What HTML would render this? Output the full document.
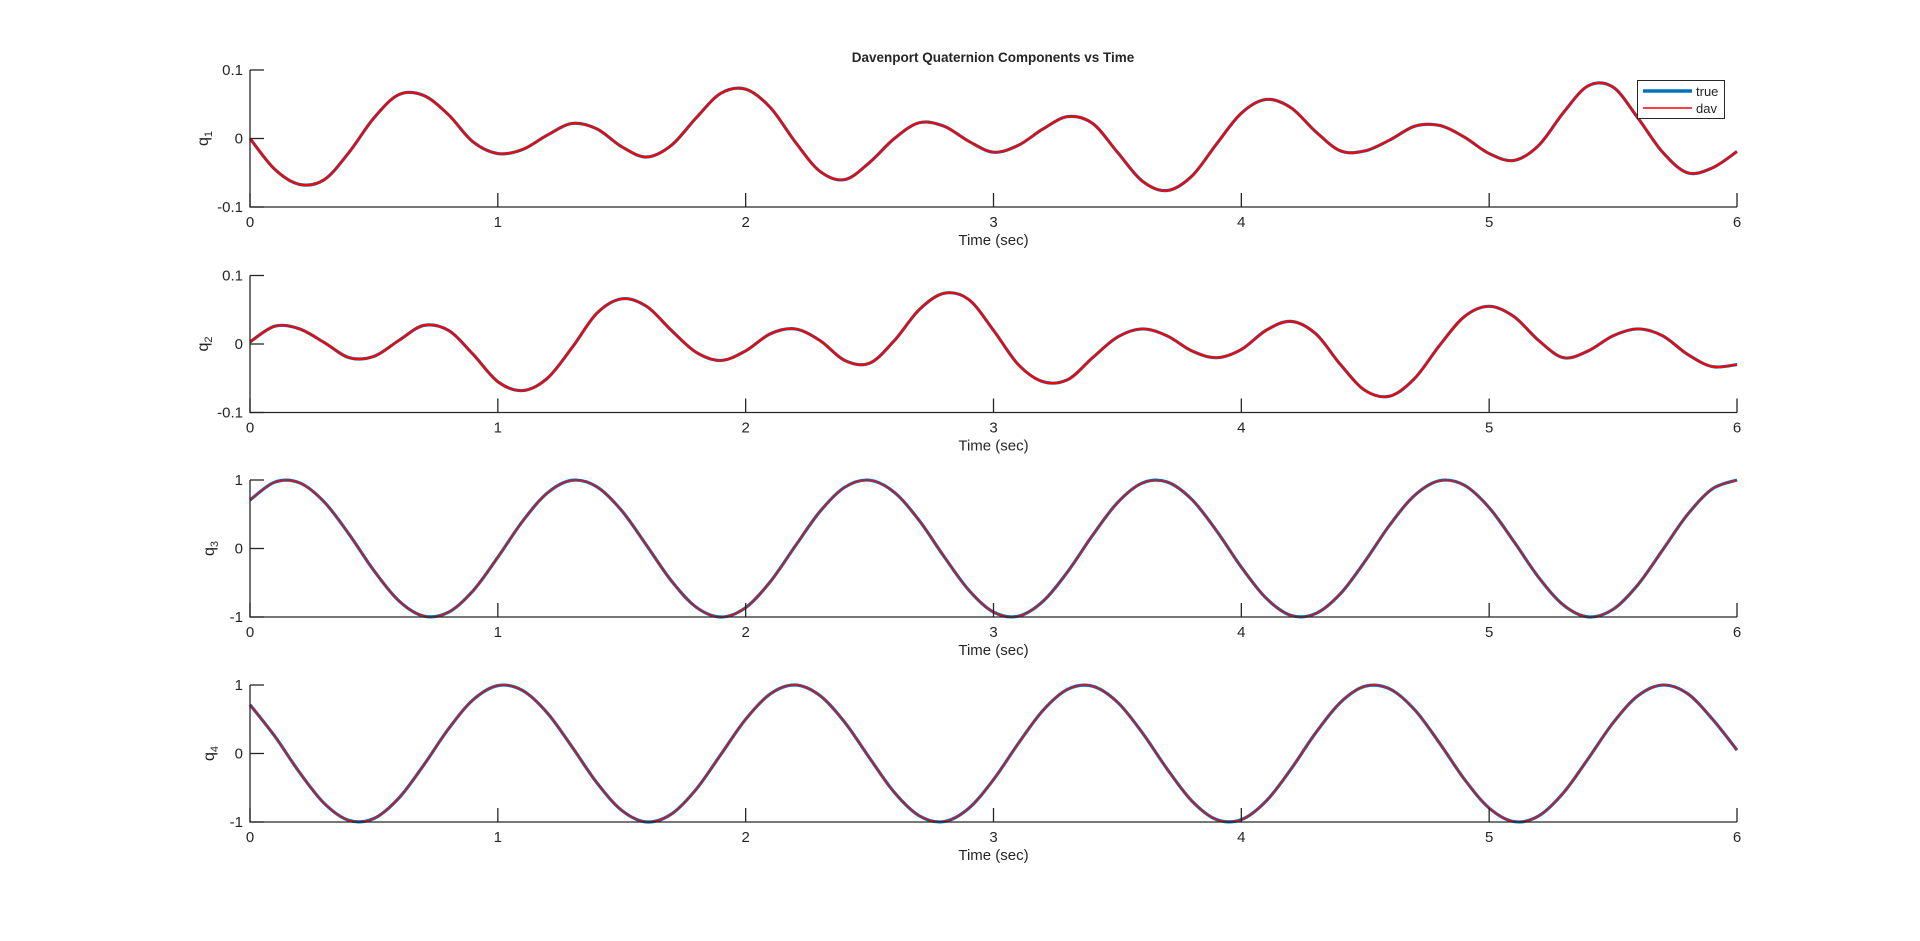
<!DOCTYPE html>
<html><head><meta charset="utf-8"><style>
html,body{margin:0;padding:0;background:#fff;}
svg text{font-family:"Liberation Sans",Arial,sans-serif;fill:#262626;}
</style></head><body>
<svg id="chart" width="1920" height="936" xmlns="http://www.w3.org/2000/svg">
<rect width="1920" height="936" fill="#fff"/>
<text x="993" y="62" text-anchor="middle" font-size="13.5" font-weight="bold" fill="#000">Davenport Quaternion Components vs Time</text>
</svg>
<script>
const times = [0,0.1,0.2,0.3,0.4,0.5,0.6,0.7,0.8,0.9,1,1.1,1.2,1.3,1.4,1.5,1.6,1.7,1.8,1.9,2,2.1,2.2,2.3,2.4,2.5,2.6,2.7,2.8,2.9,3,3.1,3.2,3.3,3.4,3.5,3.6,3.7,3.8,3.9,4,4.1,4.2,4.3,4.4,4.5,4.6,4.7,4.8,4.9,5,5.1,5.2,5.3,5.4,5.5,5.6,5.7,5.8,5.9,6];
const q1 = [0,-.045,-.067,-.060,-.020,.030,.064,.063,.035,-.005,-.022,-.016,.005,.022,.014,-.012,-.027,-.010,.030,.066,.072,.045,-.005,-.048,-.060,-.035,.000,.023,.018,-.004,-.020,-.010,.014,.032,.022,-.020,-.062,-.076,-.055,-.008,.037,.057,.045,.010,-.018,-.018,-.002,.018,.019,.002,-.022,-.032,-.010,.038,.077,.075,.030,-.020,-.050,-.043,-.019];
const q2 = [.003,.026,.022,.002,-.020,-.018,.005,.027,.020,-.015,-.055,-.068,-.050,-.005,.045,.066,.055,.020,-.012,-.024,-.010,.015,.022,.005,-.024,-.028,.005,.050,.074,.065,.020,-.030,-.055,-.052,-.020,.010,.022,.012,-.010,-.020,-.008,.020,.033,.015,-.030,-.068,-.076,-.050,-.002,.040,.055,.040,.005,-.020,-.010,.012,.022,.012,-.015,-.033,-.030];
const q3 = [.707,.969,.959,.678,.207,-.323,-.762,-.986,-.932,-.617,-.127,.399,.811,.996,.900,.552,.047,-.471,-.856,-1.000,-.863,-.482,.035,.541,.895,.997,.819,.410,-.115,-.606,-.928,-.988,-.770,-.335,.194,.668,.955,.972,.717,.259,-.272,-.725,-.976,-.950,-.659,-.181,.349,.778,.990,.923,.596,.101,-.423,-.826,-.998,-.888,-.530,-.021,.494,.869,1.000];
const q4 = [.712,.252,-.277,-.730,-.977,-.949,-.653,-.174,.355,.783,.991,.920,.591,.094,-.429,-.830,-.999,-.885,-.524,-.014,.500,.872,1.000,.845,.454,-.066,-.568,-.908,-.994,-.801,-.381,.146,.631,.939,.983,.750,.306,-.223,-.691,-.964,-.965,-.695,-.230,.301,.746,.982,.941,.636,.151,-.375,-.797,-.994,-.911,-.572,-.073,.448,.842,.999,.876,.506,.05];
const xTicks = [0,1,2,3,4,5,6];
const smallTicks = [-0.1,0,0.1];
const bigTicks = [-1,0,1];

const NS = "http://www.w3.org/2000/svg";
const svg = document.getElementById('chart');
const L = 250, R = 1737, H = 137;
const tops = [70, 275.5, 480, 685];
const series = [q1,q2,q3,q4];
const yTickSets = [smallTicks, smallTicks, bigTicks, bigTicks];
function mk(tag, attrs, parent){const e=document.createElementNS(NS,tag);for(const k in attrs)e.setAttribute(k,attrs[k]);(parent||svg).appendChild(e);return e;}
function xs(t){return L + (t-0)/(6-0)*(R-L);}
function pathFrom(pts){
  let d='M'+pts[0][0].toFixed(2)+','+pts[0][1].toFixed(2);
  for(let i=0;i<pts.length-1;i++){
    const p0=pts[Math.max(0,i-1)],p1=pts[i],p2=pts[i+1],p3=pts[Math.min(pts.length-1,i+2)];
    const c1x=p1[0]+(p2[0]-p0[0])/6,c1y=p1[1]+(p2[1]-p0[1])/6;
    const c2x=p2[0]-(p3[0]-p1[0])/6,c2y=p2[1]-(p3[1]-p1[1])/6;
    d+=' C'+c1x.toFixed(2)+','+c1y.toFixed(2)+' '+c2x.toFixed(2)+','+c2y.toFixed(2)+' '+p2[0].toFixed(2)+','+p2[1].toFixed(2);
  }
  return d;
}
for(let k=0;k<4;k++){
  const top=tops[k], bot=top+H;
  const yt=yTickSets[k];
  const ymin=yt[0], ymax=yt[yt.length-1];
  const ys=v=>bot-(v-ymin)/(ymax-ymin)*H;
  const g=mk('g',{});
  
  
  const pts=times.map((t,i)=>[xs(t),ys(series[k][i])]);
  const d=pathFrom(pts);
  const tl=mk('path',{d:d,fill:'none',stroke:'#0072BD','stroke-width':3.2,'stroke-linejoin':'round'},g);
  
  
  const dl=mk('path',{d:d,fill:'none',stroke:'#ff0000','stroke-width':(k<2?2.2:1.4),'stroke-linejoin':'round'},g);
  
  
  // axes
  const ax=mk('path',{d:`M${L},${top} L${L},${bot} L${R},${bot}`,fill:'none',stroke:'#262626','stroke-width':1.3},g);
  
  
  xTicks.forEach(t=>{
    const x=xs(t);
    mk('line',{x1:x,y1:bot,x2:x,y2:bot-14,stroke:'#262626','stroke-width':1.3},g);
    const tx=mk('text',{x:x,y:bot+20,'text-anchor':'middle','font-size':15},g);
    tx.textContent=t;
    
    
  });
  yt.forEach(v=>{
    const y=ys(v);
    mk('line',{x1:L,y1:y,x2:L+14,y2:y,stroke:'#262626','stroke-width':1.3},g);
    const tx=mk('text',{x:L-7,y:y+5,'text-anchor':'end','font-size':15},g);
    tx.textContent=v;
    
    
  });
  const xl=mk('text',{x:(L+R)/2,y:bot+38,'text-anchor':'middle','font-size':15},g);
  xl.textContent='Time (sec)';
  
  
  const yc=(top+bot)/2;
  const lx = k<2 ? 208 : 214;
  const yl=mk('text',{x:lx,y:yc,'text-anchor':'middle','font-size':16,transform:`rotate(-90 ${lx} ${yc})`},g);
  yl.innerHTML='q<tspan font-size="11" dy="4">'+(k+1)+'</tspan>';
  
  
}
// legend
const lg=mk('g',{});


mk('rect',{x:1637.5,y:80.5,width:87,height:38,fill:'#fff',stroke:'#262626','stroke-width':1},lg);
mk('line',{x1:1643,y1:91,x2:1692,y2:91,stroke:'#0072BD','stroke-width':3.5},lg);
mk('line',{x1:1643,y1:108,x2:1692,y2:108,stroke:'#ff0000','stroke-width':1.6},lg);
const t1=mk('text',{x:1696,y:96,'font-size':13,fill:'#000'},lg);t1.textContent='true';


const t2=mk('text',{x:1696,y:113,'font-size':13,fill:'#000'},lg);t2.textContent='dav';


</script>
</body></html>
